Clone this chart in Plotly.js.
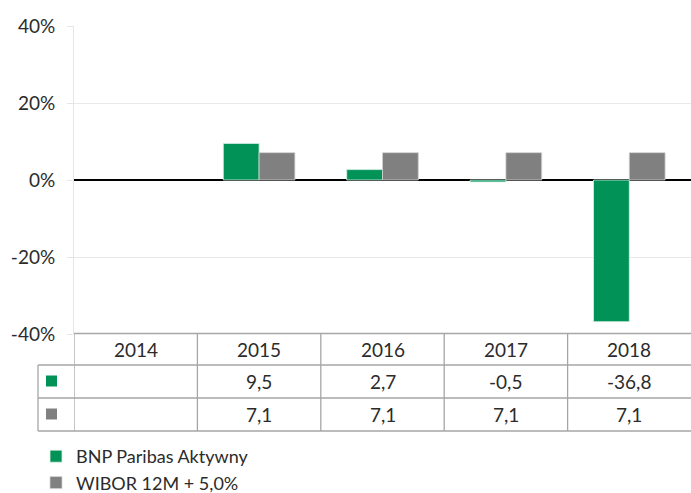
<!DOCTYPE html>
<html>
<head>
<meta charset="utf-8">
<script src="https://cdn.plot.ly/plotly-3.0.1.min.js"></script>
<style>html,body{margin:0;padding:0;background:#fff;}#chart{width:691px;height:493px;}</style>
</head>
<body>
<div id="chart"></div>
<script>
const years = ['2014', '2015', '2016', '2017', '2018'];
const bnpValues = [null, 9.5, 2.7, -0.5, -36.8];
const wiborValues = [null, 7.1, 7.1, 7.1, 7.1];
const seriesNames = ['BNP Paribas Aktywny', 'WIBOR 12M + 5,0%'];
const yTicks = [-40, -20, 0, 20, 40];

const GREEN = '#009257';
const GRAY = '#808080';
const LINE = '#a6a6a6';
const TXT = '#2b2b2b';
const FONT = 'Lato, "Open Sans", sans-serif';

const PLOT_TOP = 26, PLOT_BOTTOM = 334, H = 493, W = 691, LEFT = 74;
const PH = PLOT_BOTTOM - PLOT_TOP, PW = W - LEFT;
const py = p => (PLOT_BOTTOM - p) / PH;   // pixel row -> paper y
const px = p => (p - LEFT) / PW;          // pixel col -> paper x

const fmt = v => (v === null ? '' : v.toFixed(1).replace('.', ','));

const traces = [
  {type: 'bar', name: seriesNames[0], x: years, y: bnpValues,
   marker: {color: GREEN, line: {color: '#d9efe4', width: 0.8}}, legendgroup: 'a', hoverinfo: 'y'},
  {type: 'bar', name: seriesNames[1], x: years, y: wiborValues,
   marker: {color: GRAY, line: {color: '#d0d0d0', width: 0.8}}, legendgroup: 'b', hoverinfo: 'y'}
];

const rowCenters = [349, 381.5, 414.5];
const hLines = [365, 398, 431];
const shapes = [];
const annotations = [];

// table horizontal lines
shapes.push({type: 'line', xref: 'paper', yref: 'paper', x0: 0, x1: 1, y0: py(333.5), y1: py(333.5), line: {color: LINE, width: 1.3}});
hLines.forEach(h => shapes.push({type: 'line', xref: 'paper', yref: 'paper', x0: px(38), x1: 1, y0: py(h), y1: py(h), line: {color: LINE, width: 1.3}}));
// vertical lines (no border at right edge)
for (let i = 0; i < years.length; i++) {
  shapes.push({type: 'line', xref: 'x', yref: 'paper', x0: i - 0.5, x1: i - 0.5, y0: py(333.5), y1: py(431), line: {color: LINE, width: 1.3}});
}
shapes.push({type: 'line', xref: 'paper', yref: 'paper', x0: px(38), x1: px(38), y0: py(365), y1: py(431), line: {color: LINE, width: 1.3}});
// small series keys in table
[[GREEN, 381], [GRAY, 414]].forEach(([c, cy]) => shapes.push({type: 'rect', xref: 'paper', yref: 'paper',
  x0: px(46), x1: px(57), y0: py(cy - 5.5), y1: py(cy + 5.5), fillcolor: c, line: {width: 0}}));

const cellFont = {family: FONT, size: 19, color: TXT};
years.forEach((yr, i) => {
  [yr, fmt(bnpValues[i]), fmt(wiborValues[i])].forEach((t, r) => {
    if (t === '') return;
    annotations.push({xref: 'x', yref: 'paper', x: i, y: py(rowCenters[r]), text: t, showarrow: false,
      font: cellFont, xanchor: 'center', yanchor: 'middle'});
  });
});

const layout = {
  width: W, height: H,
  margin: {l: LEFT, r: 0, t: PLOT_TOP, b: H - PLOT_BOTTOM, pad: 0, autoexpand: false},
  paper_bgcolor: '#fff', plot_bgcolor: '#fff',
  barmode: 'group', bargap: 0.42, bargroupgap: 0,
  font: {family: FONT, color: TXT},
  xaxis: {type: 'category', range: [-0.5, years.length - 0.5], showticklabels: false, ticks: '',
    showgrid: false, zeroline: false, showline: false, fixedrange: true},
  yaxis: {range: [-40, 40], tickvals: yTicks, ticktext: yTicks.map(v => v + '%'),
    ticks: 'outside', ticklen: 6, tickcolor: '#e6e6e6', tickwidth: 1, ticklabelstandoff: 8,
    showgrid: true, gridcolor: '#e8e8e8', gridwidth: 1,
    zeroline: true, zerolinecolor: '#000', zerolinewidth: 1.5,
    showline: true, linecolor: '#e6e6e6', linewidth: 1,
    tickfont: {family: FONT, size: 19, color: TXT}, fixedrange: true},
  showlegend: true,
  legend: {x: px(36), y: py(438), xanchor: 'left', yanchor: 'top', orientation: 'v',
    font: {family: FONT, size: 18, color: TXT}, tracegroupgap: 11, bgcolor: 'rgba(0,0,0,0)', traceorder: 'normal'},
  shapes: shapes,
  annotations: annotations
};

Plotly.newPlot('chart', traces, layout, {displayModeBar: false, staticPlot: true});
</script>
</body>
</html>
